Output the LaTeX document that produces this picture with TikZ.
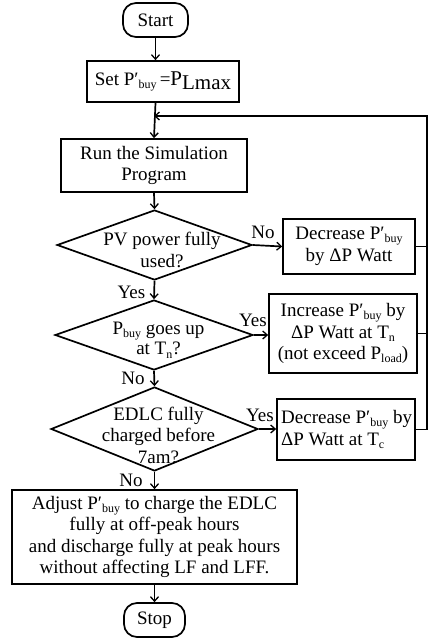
\documentclass[tikz,border=0pt]{standalone}
\usepackage{fontspec}
\setmainfont{Liberation Serif}
\usetikzlibrary{shapes.geometric,arrows.meta}
\newcommand\lsub[1]{\raisebox{-0.35ex}{\fontsize{12}{12}\selectfont #1}}
\begin{document}
\begin{tikzpicture}[x=1pt,y=-1pt,
  every node/.style={font=\fontsize{19}{21.5}\selectfont, inner sep=0pt},
  term/.style={draw, line width=1.7pt, rounded corners=13pt, minimum width=#1, minimum height=34pt},
  procbox/.style={draw, line width=1.7pt, align=center},
  decbox/.style={draw, diamond, line width=1.7pt},
  lab/.style={},
  conn/.style={line width=1.7pt},
  arr/.style={line width=1.7pt, -{Straight Barb[length=4.5pt,width=8pt,line width=1.3pt]}}
]
\useasboundingbox (0,0) rectangle (428,638);

\node[term=65pt] (start) at (155.5,20) {Start};
\node[procbox, minimum width=152pt, minimum height=41pt] (set) at (163,81.5)
  {Set P′\lsub{buy}\,={\fontsize{21}{21}\selectfont P\raisebox{-4pt}{Lmax}}};
\node[procbox, minimum width=186pt, minimum height=53pt] (run) at (154,165.5)
  {Run the Simulation\\Program};

\node[decbox, minimum width=195pt, minimum height=70pt] (d1) at (154.5,245) {};
\node[align=center] (t1) at (162,250) {PV power fully\\used?};
\node[procbox, minimum width=132pt, minimum height=55pt] (dec1) at (349,246.5)
  {Decrease P′\lsub{buy}\\by ΔP Watt};

\node[decbox, minimum width=198pt, minimum height=70pt] (d2) at (154,335) {};
\node[align=center, font=\fontsize{19}{20.5}\selectfont] (t2) at (158.5,340) {P\lsub{buy} goes up\\at T\lsub{n}?};
\node[procbox, minimum width=148pt, minimum height=79pt] (inc) at (343,333.5)
  {Increase P′\lsub{buy} by\\ΔP Watt at T\lsub{n}\\(not exceed P\lsub{load})};

\node[decbox, minimum width=207pt, minimum height=84pt] (d3) at (154.5,429) {};
\node[align=center] (t3) at (158.5,435) {EDLC fully\\charged before\\7am?};
\node[draw, line width=1.7pt, minimum width=138pt, minimum height=61pt] (dec2) at (346,429.5) {};
\node[align=flush left, anchor=west] (t4) at (281,429.5)
  {Decrease P′\lsub{buy} by\\ΔP Watt at T\lsub{c}};

\node[procbox, minimum width=285pt, minimum height=94pt] (adj) at (154.5,537)
  {Adjust P′\lsub{buy} to charge the EDLC\\fully at off-peak hours\\and discharge fully at peak hours\\without affecting LF and LFF.};
\node[term=61pt] (stop) at (154.5,620) {Stop};

\coordinate (fb) at (154,116);
\coordinate (rtop) at (427,116);

\draw[arr] (start.south) -- (start.south |- set.north);
\draw[arr] (start.south |- set.south) -- (run.north);
\draw[arr] (run.south) -- (d1.north);
\draw[arr] (d1.east) -- (dec1.west);
\draw[arr] (d1.south) -- (d2.north);
\draw[arr] (d2.east) -- (d2.east -| inc.west);
\draw[arr] (d2.south) -- (d3.north);
\draw[arr] (d3.east) -- (d3.east -| dec2.west);
\draw[arr] (d3.south) -- (d3.south |- adj.north);
\draw[arr] (adj.south) -- (stop.north);

\draw[conn] (dec1.east) -- (dec1.east -| rtop);
\draw[conn] (inc.east) -- (inc.east -| rtop);
\draw[arr] (dec2.east) -| (rtop) -- (fb);

\node[lab] (l1) at (263,232) {No};
\node[lab] (l2) at (131.5,292) {Yes};
\node[lab] (l3) at (253,320) {Yes};
\node[lab] (l4) at (133,378) {No};
\node[lab] (l5) at (260,415) {Yes};
\node[lab] (l6) at (131,480) {No};
\end{tikzpicture}
\end{document}
